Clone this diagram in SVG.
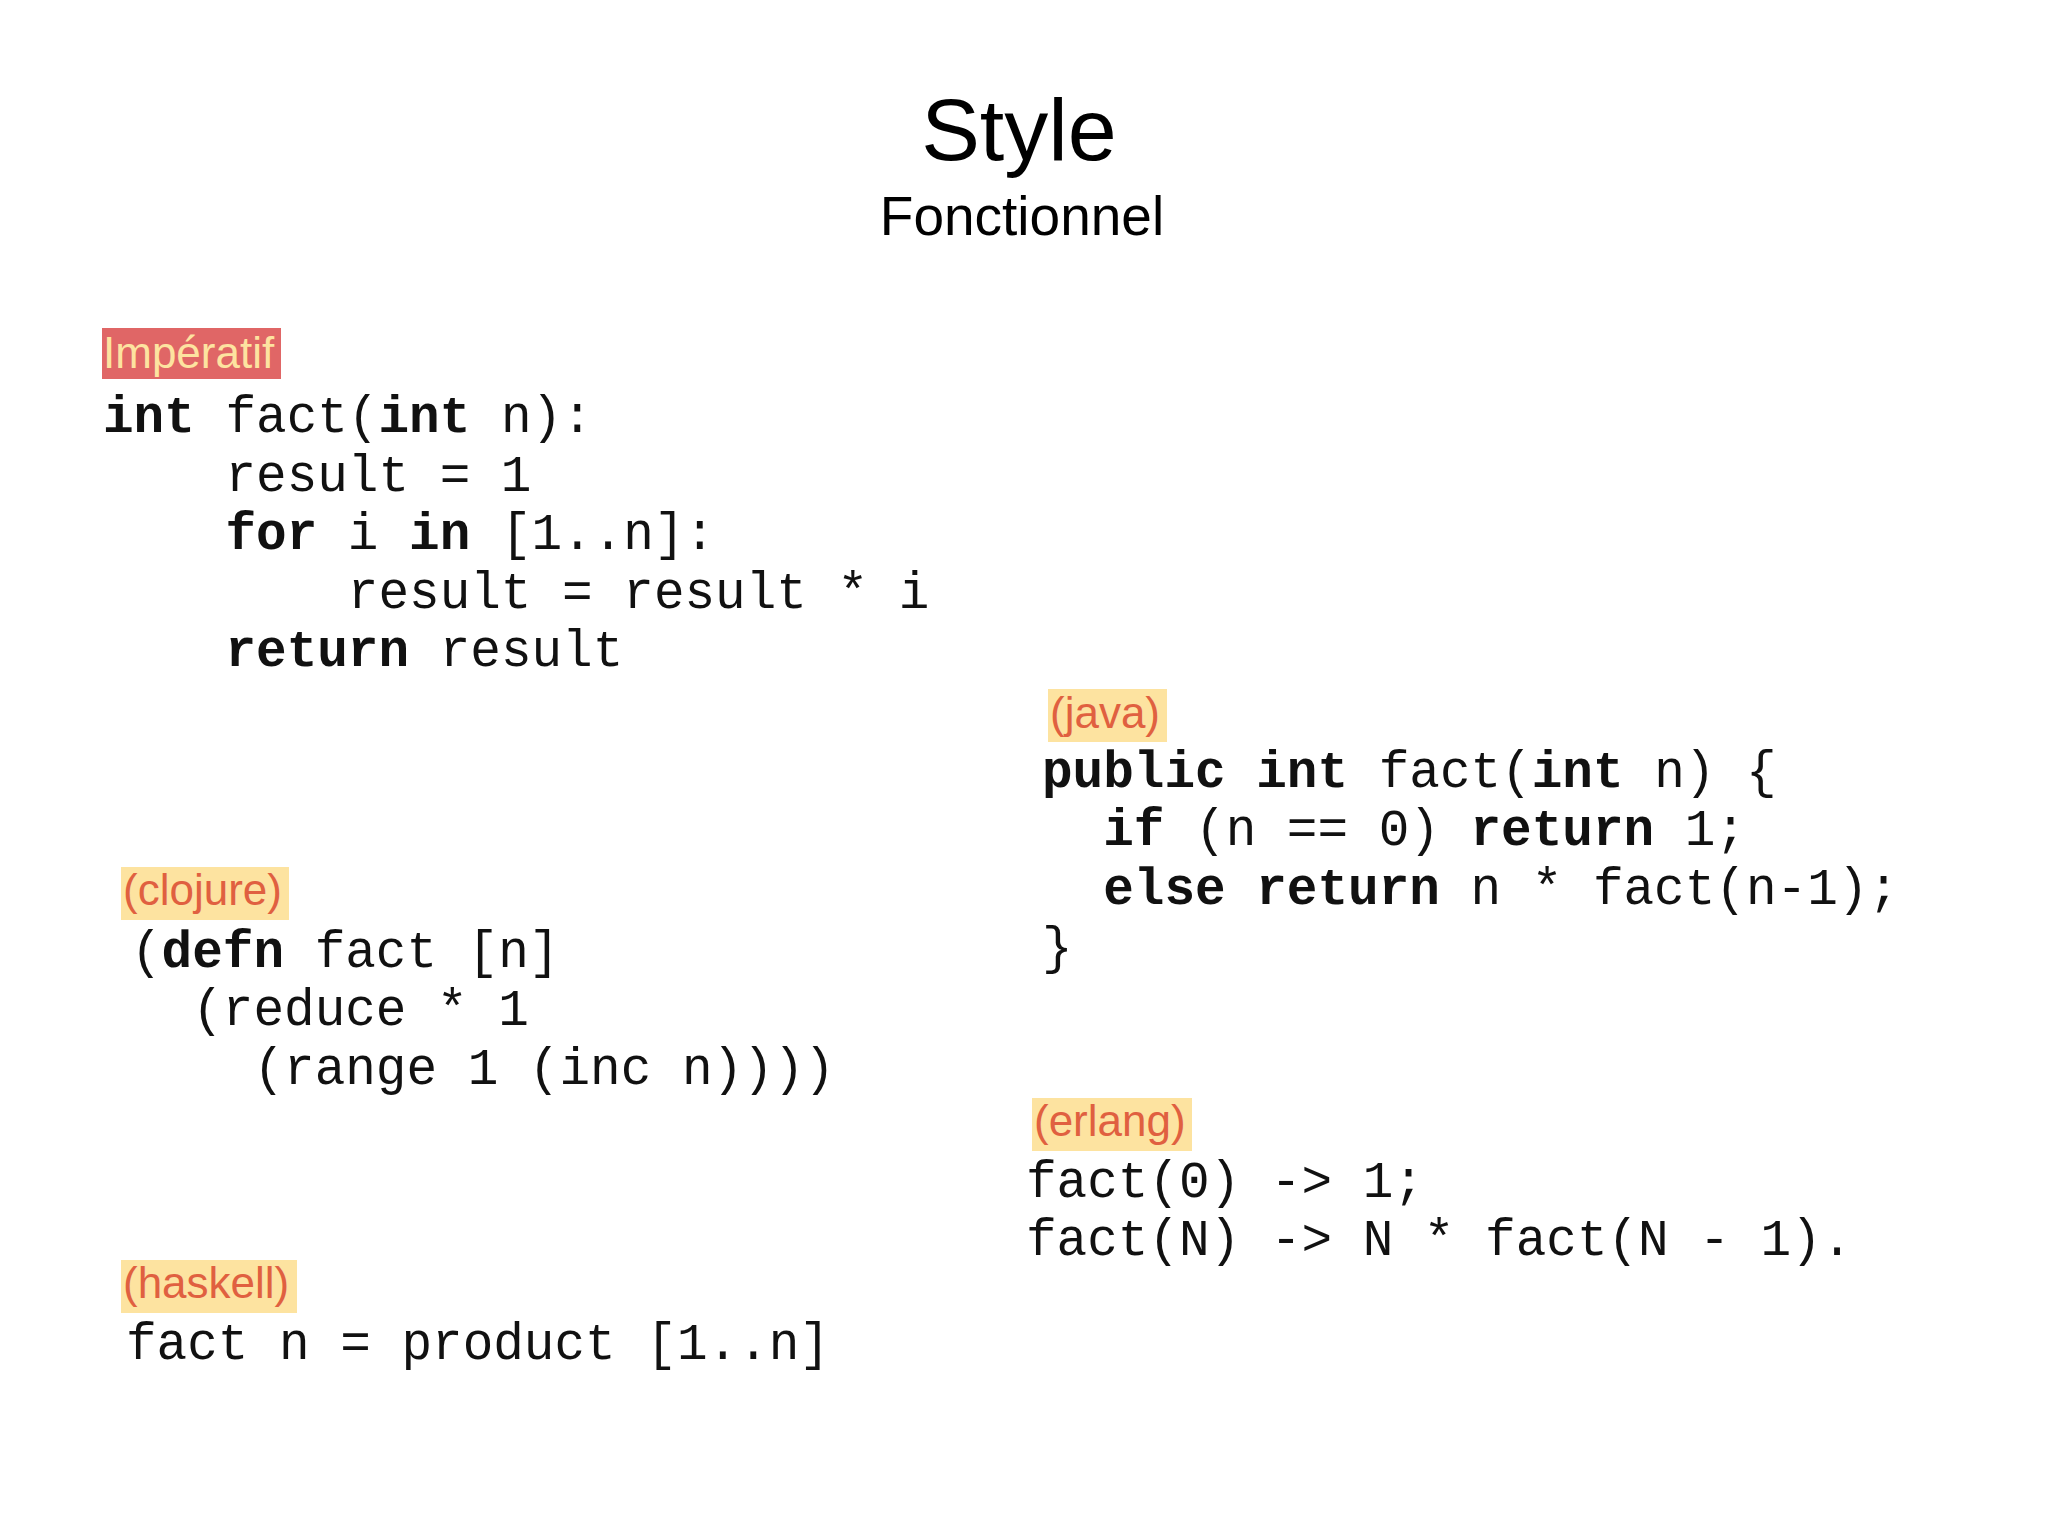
<svg xmlns="http://www.w3.org/2000/svg" width="2048" height="1536" viewBox="0 0 2048 1536">
<style>
.c{font-family:"Liberation Mono",monospace;font-size:51px;fill:#111;white-space:pre}
.b{font-weight:bold}
.l{font-family:"Liberation Sans",Arial,sans-serif;font-size:44px;fill:#e06040}
.y{fill:#fde3a0}
</style>
<rect width="2048" height="1536" fill="#fff"/>
<g id="title">
<text x="1019" y="160" text-anchor="middle" font-family="Liberation Sans,Arial,sans-serif" font-size="88">Style</text>
<text x="1022" y="235" text-anchor="middle" font-family="Liberation Sans,Arial,sans-serif" font-size="55">Fonctionnel</text>
</g>
<g id="imperatif">
<rect x="102" y="328" width="179" height="51" fill="#e06666"/>
<text x="103" y="368" class="l" style="fill:#fde3a0">Impératif</text>
<text class="c" x="103" y="432"><tspan class="b">int</tspan> fact(<tspan class="b">int</tspan> n):</text>
<text class="c" x="103" y="491">    result = 1</text>
<text class="c" x="103" y="549">    <tspan class="b">for</tspan> i <tspan class="b">in</tspan> [1..n]:</text>
<text class="c" x="103" y="608">        result = result * i</text>
<text class="c" x="103" y="666">    <tspan class="b">return</tspan> result</text>
</g>
<g id="java">
<rect x="1048" y="689" width="119" height="53" class="y"/>
<text x="1050" y="728" class="l">(java)</text>
<text class="c" x="1042" y="787"><tspan class="b">public int</tspan> fact(<tspan class="b">int</tspan> n) {</text>
<text class="c" x="1042" y="845">  <tspan class="b">if</tspan> (n == 0) <tspan class="b">return</tspan> 1;</text>
<text class="c" x="1042" y="904">  <tspan class="b">else return</tspan> n * fact(n-1);</text>
<text class="c" x="1042" y="963">}</text>
</g>
<g id="clojure">
<rect x="121" y="867" width="168" height="53" class="y"/>
<text x="123" y="905" class="l">(clojure)</text>
<text class="c" x="131" y="967">(<tspan class="b">defn</tspan> fact [n]</text>
<text class="c" x="131" y="1025">  (reduce * 1</text>
<text class="c" x="131" y="1084">    (range 1 (inc n))))</text>
</g>
<g id="erlang">
<rect x="1032" y="1098" width="160" height="53" class="y"/>
<text x="1034" y="1136" class="l">(erlang)</text>
<text class="c" x="1026" y="1197">fact(0) -&gt; 1;</text>
<text class="c" x="1026" y="1255">fact(N) -&gt; N * fact(N - 1).</text>
</g>
<g id="haskell">
<rect x="121" y="1260" width="176" height="53" class="y"/>
<text x="123" y="1298" class="l">(haskell)</text>
<text class="c" x="126" y="1359">fact n = product [1..n]</text>
</g>
<g id="connectors"/>
</svg>
